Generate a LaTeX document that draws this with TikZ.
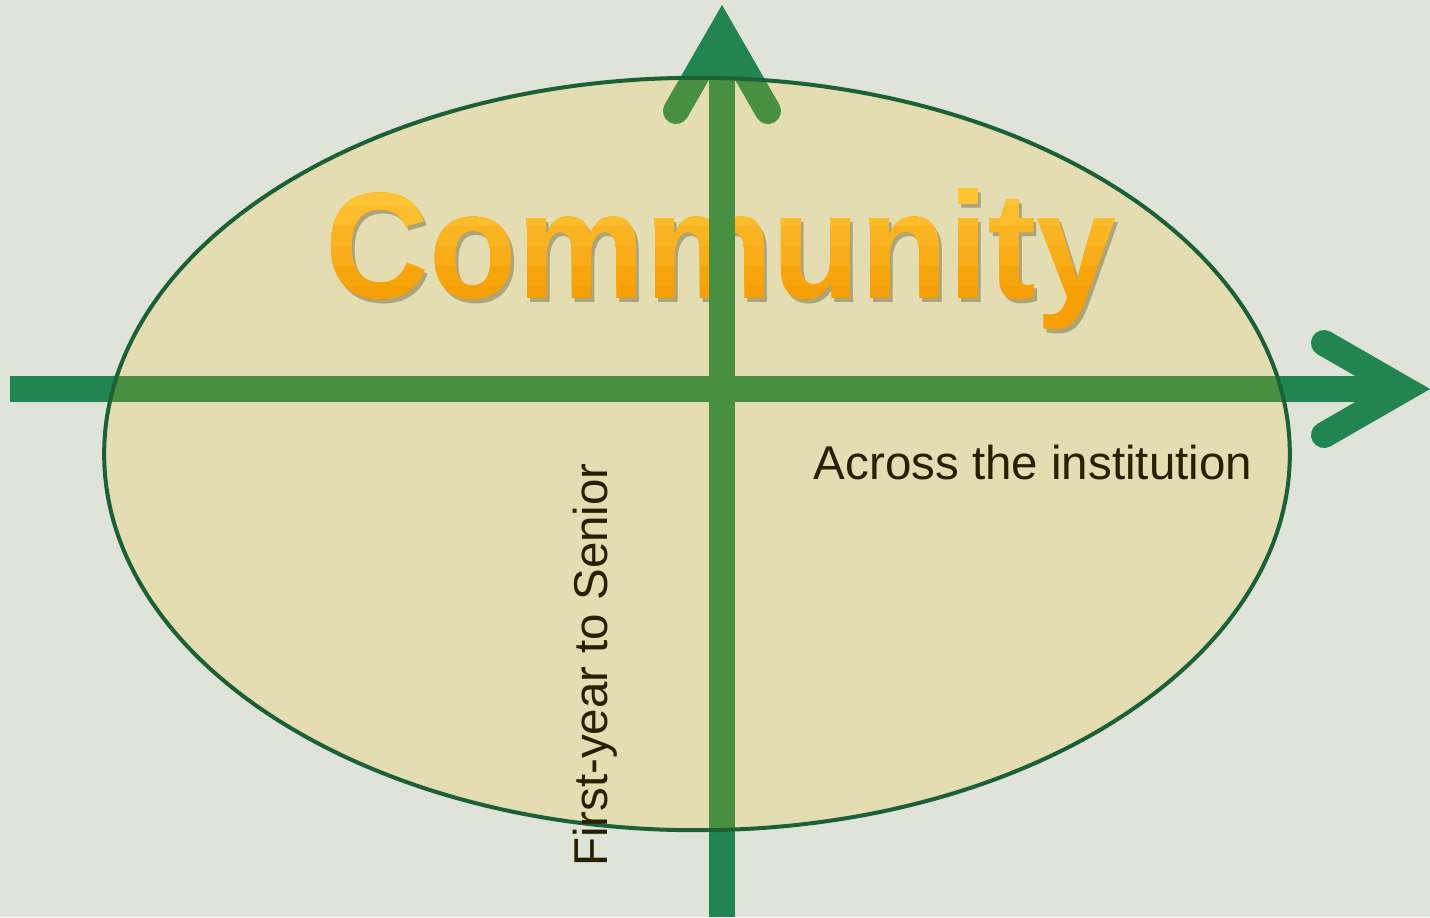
\documentclass[tikz,border=0pt]{standalone}
\usepackage{fontspec}
\setmainfont{Liberation Sans}
\usetikzlibrary{positioning}
\definecolor{bgpanel}{RGB}{223,227,216}
\definecolor{axisgreen}{RGB}{34,132,80}
\definecolor{rimgreen}{RGB}{28,96,56}
\definecolor{wash}{RGB}{250,194,0}
\definecolor{labelink}{RGB}{40,30,0}
\definecolor{goldlow}{RGB}{246,152,8}
\definecolor{goldhigh}{RGB}{255,200,70}
\tikzset{
  shaft/.style={axisgreen,line width=0.26cm},
  barb/.style={axisgreen,line width=0.26cm,line cap=round,line join=miter},
  rim/.style={draw=rimgreen,line width=0.04cm,fill=wash,fill opacity=0.18},
  label/.style={font=\fontsize{13.5}{16}\selectfont,text=labelink},
  title/.style={font=\fontsize{43}{50}\selectfont\bfseries,xscale=0.95,anchor=base}
}

\begin{document}
\begin{tikzpicture}[x=0.01cm,y=-0.01cm]
  \fill[bgpanel] (0,0) rectangle (1430,917);
  \useasboundingbox (0,0) rectangle (1430,917);

  % title, with a shadow and a lighter top
  \node[title,text=black,opacity=0.3] (titleshade) at (724,302) {Community};
  \node[title,text=goldlow] (title) at (721,298) {Community};
  \foreach \cut/\mix in {285/15,265/35,245/55,225/75,205/95}{
    \begin{scope}
      \clip (300,150) rectangle (1140,\cut);
      \node[title,text=goldhigh!\mix!goldlow] at (721,298) {Community};
    \end{scope}
  }

  % axes
  \coordinate (west) at (10,389);
  \coordinate (east) at (1404,389);
  \coordinate (south) at (722,917);
  \coordinate (north) at (722,31);
  \draw[shaft] (west) -- (east);
  \draw[shaft] (south) -- (north);
  \draw[barb] (1324,343) -- (east) -- (1324,435);
  \draw[barb] (676,111) -- (north) -- (768,111);

  % community ellipse
  \path[rim] (697,454) ellipse [x radius=5.925cm,y radius=3.76cm];

  \node[label] (across) at (1033,463) {Across the institution};
  \node[label,rotate=90] (years) at (595,665) {First-year to Senior};
\end{tikzpicture}
\end{document}
